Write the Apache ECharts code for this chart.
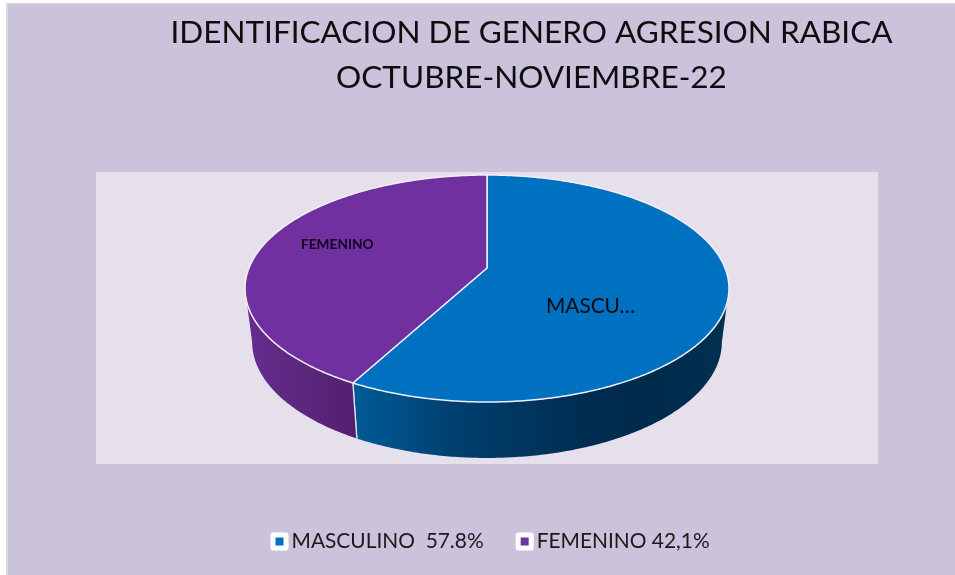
<!DOCTYPE html>
<html>
<head>
<meta charset="utf-8">
<style>html,body{margin:0;padding:0;background:#fff}#c{width:955px;height:575px}</style>
<script src="https://cdn.jsdelivr.net/npm/echarts@6/dist/echarts.min.js"></script>
</head>
<body>
<div id="c"></div>
<script>
const titleText = 'IDENTIFICACION DE GENERO AGRESION RABICA\nOCTUBRE-NOVIEMBRE-22';
const categories = ['MASCULINO  57.8%', 'FEMENINO 42,1%'];
const sliceLabels = ['MASCU…', 'FEMENINO'];
const values = [57.8, 42.1];

const colors = ['#0070c0', '#7030a0'];
const total = values.reduce((a, b) => a + b, 0);
const K = 0.1806;
const topFace = { cx: 487, y0: 268, a: 238, b: 109.8 };
const lowFace = { cx: 487, y0: 321, a: 231, b: 112.2 };
const limbAngle = Math.acos(-K);

function project(face, theta, r) {
  const u = Math.sin(theta) * r, v = Math.cos(theta) * r, d = 1 + K * v;
  return [face.cx + face.a * u / d, face.y0 - face.b * v / d];
}
function arc(face, from, to) {
  const n = Math.max(2, Math.ceil(Math.abs(to - from) / 0.01)), pts = [];
  for (let i = 0; i <= n; i++) pts.push(project(face, from + (to - from) * i / n, 1));
  return pts;
}
const sideFills = [
  { type: 'linear', x: 355, y: 0, x2: 723, y2: 0, global: true, colorStops: [
    { offset: 0, color: '#005a96' }, { offset: 0.28, color: '#003f6e' },
    { offset: 0.65, color: '#002c50' }, { offset: 0.82, color: '#002b4c' }, { offset: 1, color: '#003050' }] },
  { type: 'linear', x: 250, y: 0, x2: 355, y2: 0, global: true, colorStops: [
    { offset: 0, color: '#652d8e' }, { offset: 1, color: '#52206e' }] }
];
const labelStyles = [
  { x: 546, y: 306, font: '20.8px Lato, sans-serif', fill: '#0b0b12' },
  { x: 301, y: 245, font: 'bold 13.7px Lato, sans-serif', fill: '#12041f' }
];

function renderSlice(index) {
  return function (params, api) {
    const before = values.slice(0, index).reduce((a, b) => a + b, 0);
    const start = before / total * 2 * Math.PI;
    const end = start + api.value(0) / total * 2 * Math.PI;
    const visFrom = Math.max(start, limbAngle);
    const visTo = Math.min(end, 2 * Math.PI - limbAngle);
    const children = [];
    const side = arc(topFace, visFrom, visTo).concat(arc(lowFace, visTo, visFrom));
    children.push({ type: 'polygon', shape: { points: side }, style: { fill: sideFills[index] } });
    const centre = project(topFace, 0, 0);
    children.push({ type: 'polygon', shape: { points: [centre].concat(arc(topFace, start, end)) },
      style: { fill: colors[index], stroke: '#f2f0f7', lineWidth: 1.5, lineJoin: 'round' } });
    const ang = index === 0 ? end : start;
    children.push({ type: 'line',
      shape: { x1: project(topFace, ang, 1)[0], y1: project(topFace, ang, 1)[1],
               x2: project(lowFace, ang, 1)[0], y2: project(lowFace, ang, 1)[1] },
      style: { stroke: '#e6e2ee', lineWidth: 1.3 } });
    const l = labelStyles[index];
    children.push({ type: 'text', style: { x: l.x, y: l.y, text: sliceLabels[index], font: l.font,
      fill: l.fill, textAlign: 'left', textVerticalAlign: 'middle' } });
    return { type: 'group', children };
  };
}

const chart = echarts.init(document.getElementById('c'), null, { renderer: 'canvas' });
chart.setOption({
  animation: false,
  backgroundColor: '#ffffff',
  graphic: [
    { type: 'rect', z: -10, shape: { x: 6, y: 3, width: 949, height: 572 }, style: { fill: '#d9d9d9' } },
    { type: 'rect', z: -9, shape: { x: 8, y: 4, width: 947, height: 571 }, style: { fill: '#cbc2db' } },
    { type: 'rect', z: -8, shape: { x: 96, y: 172, width: 782, height: 292 }, style: { fill: '#e5e0ec' } }
  ],
  title: {
    text: titleText, left: 526.5, top: 5, textAlign: 'center',
    textStyle: { fontFamily: 'Lato, sans-serif', fontSize: 31.5, fontWeight: 'normal', color: '#0d0d0d', lineHeight: 45 }
  },
  legend: {
    left: 265.5, top: 526, itemWidth: 13, itemHeight: 13, itemGap: 32, selectedMode: false, icon: 'rect',
    itemStyle: { borderColor: '#ffffff', borderWidth: 5, borderJoin: 'round' },
    textStyle: { fontFamily: 'Lato, sans-serif', fontSize: 20.9, color: '#1a1a1a', padding: [0, 0, 0, 0.5] },
    data: categories
  },
  series: categories.map((name, i) => ({
    type: 'custom', name, coordinateSystem: 'none', silent: true, clip: false, z: 2 + i,
    itemStyle: { color: colors[i] },
    renderItem: renderSlice(i),
    data: [values[i]]
  }))
});
</script>
</body>
</html>
